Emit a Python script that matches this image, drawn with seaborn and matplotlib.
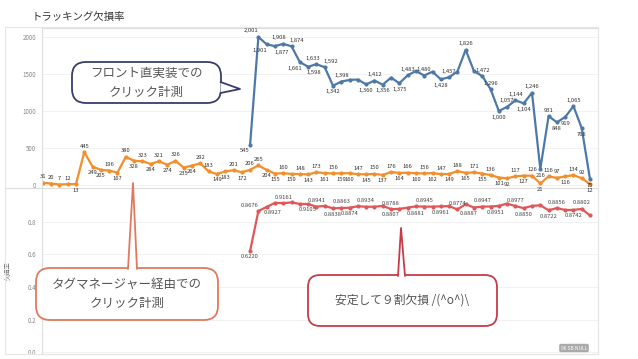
import numpy as np
import pandas as pd
import seaborn as sns
import matplotlib.pyplot as plt
from matplotlib.patches import FancyBboxPatch, Polygon, Rectangle
from matplotlib.lines import Line2D

# daily click counts (day 0 .. 66)
tag_counts = [31, 20, 7, 12, 13, 445, 249, 205, 196, 167,
              380, 328, 323, 284, 321, 274, 326, 235, 264, 292,
              183, 149, 183, 201, 172, 206, 265, 204, 155, 160,
              150, 148, 143, 173, 161, 156, 159, 160, 147, 145,
              150, 137, 176, 164, 166, 160, 156, 162, 147, 149,
              188, 165, 171, 155, 136, 101, 92, 117, 127, 126,
              21, 116, 97, 116, 134, 92, 12]

# front-side measurement starts on day 25
front_start = 25
front_counts = [545, 2001, 1901, 1877, 1908, 1874, 1661, 1598, 1633, 1592,
                1342, 1398, 1421, 1425, 1360, 1412, 1356, 1452, 1375, 1483,
                1540, 1480, 1532, 1428, 1457, 1533, 1826, 1539, 1472, 1296,
                1000, 1057, 1144, 1104, 1246, 216, 931, 848, 919, 1065,
                768, 75]

loss_rate = [0.6220, 0.8676, 0.8927, 0.9174, 0.9161, 0.9200, 0.9109, 0.9105, 0.8941, 0.8989,
             0.8838, 0.8863, 0.8874, 0.8968, 0.8934, 0.8938, 0.8990, 0.8788, 0.8807, 0.8881,
             0.8961, 0.8945, 0.8943, 0.8961, 0.8977, 0.8774, 0.9096, 0.8887, 0.8947, 0.8951,
             0.8990, 0.9130, 0.8977, 0.8850, 0.8989, 0.9028, 0.8722, 0.8856, 0.8738, 0.8742,
             0.8802, 0.8400]

# label placement per point: a = above, b = below, - = no label
tag_sides = ('aaaababbab' 'ababababba' 'abbabaabba' 'babababbab'
             'ababababab' 'abababbaba' 'baabaab')
front_sides = 'babbaabbaa' 'ba--bab-ba' '-a-ba-a-aa' 'baababab' 'babb'
rate_sides = 'bab-a--ba-' 'bab-a--abb' '-a-b-a-bab' '--ab--ba-b' 'a-'
# sideways nudges (points) for crowded labels, keyed by day
front_nudge = {25: -4, 26: -5, 27: -5, 28: 5, 29: -3, 30: 4, 31: -4, 32: 4,
               33: -3, 34: 4}
rate_nudge = {26: -6, 27: 4, 43: -6, 44: 6, 52: -4, 54: 4}

W, H = 638, 359
BLUE, ORANGE, RED = '#4e79a7', '#f28e2b', '#e15759'

sns.set_style("white")
plt.rcParams['font.family'] = ['Noto Sans CJK JP', 'DejaVu Sans']

fig = plt.figure(figsize=(W / 100, H / 100), dpi=100)
left, right = 42, 598
ax1 = fig.add_axes([left / W, 1 - 188 / H, (right - left) / W, (188 - 28) / H])
ax2 = fig.add_axes([left / W, 1 - 354 / H, (right - left) / W, (354 - 188) / H])

days = np.arange(len(tag_counts))
front_days = days[front_start:]

top = pd.concat([
    pd.DataFrame({'day': days, 'count': tag_counts, 'series': 'tag'}),
    pd.DataFrame({'day': front_days, 'count': front_counts, 'series': 'front'}),
])
sns.lineplot(data=top, x='day', y='count', hue='series',
             palette={'tag': ORANGE, 'front': BLUE}, marker='o', markersize=3,
             markeredgewidth=0, linewidth=1.6, legend=False, ax=ax1)

sns.lineplot(x=front_days, y=loss_rate, color=RED, marker='o', markersize=3,
             markeredgewidth=0, linewidth=1.6, ax=ax2)


def put_labels(ax, xs, vals, fmt, sides, nudge=None, color='#333333'):
    nudge = nudge or {}
    for x, v, s in zip(xs, vals, sides):
        if s == '-':
            continue
        up = s == 'a'
        ax.annotate(fmt(v), (x, v), xytext=(nudge.get(x, 0), 2.5 if up else -2.5),
                    textcoords='offset points', ha='center',
                    va='bottom' if up else 'top', fontsize=4.2, color=color)


put_labels(ax1, days, tag_counts, lambda v: f'{v}', tag_sides)
put_labels(ax1, front_days, front_counts, lambda v: f'{v:,}', front_sides,
           front_nudge)
put_labels(ax2, front_days, loss_rate, lambda v: f'{v:.4f}', rate_sides,
           rate_nudge, color='#444444')

for ax in (ax1, ax2):
    ax.set_xlim(-0.1, 66.96)
    ax.set_xticks([])
    ax.set_xlabel('')
    ax.grid(axis='y', color='#f0f0f0', linewidth=0.6)
    ax.tick_params(axis='y', length=0, pad=4, labelsize=4.5, labelcolor='#888888')
    for s in ax.spines.values():
        s.set_color('#dddddd')
        s.set_linewidth(0.8)
    ax.set_facecolor('none')

ax1.set_ylim(-40, 2122)
ax1.set_yticks([0, 500, 1000, 1500, 2000])
ax1.set_ylabel('')
ax2.set_ylim(-0.012, 1.009)
ax2.set_yticks([0.0, 0.2, 0.4, 0.6, 0.8])
ax2.set_yticklabels(['0.0', '0.2', '0.4', '0.6', '0.8'])
ax2.spines['top'].set_visible(False)
ax2.set_ylabel('欠損率', fontsize=4.5, color='#666666')
ax2.yaxis.set_label_coords(-0.054, 0.5)

# overlay in pixel units for title, frame and callouts
ov = fig.add_axes([0, 0, 1, 1])
ov.set_xlim(0, W)
ov.set_ylim(H, 0)
ov.axis('off')

ov.text(32, 17, 'トラッキング欠損率', fontsize=7.5, color='#333333', va='center')
ov.add_patch(Rectangle((5, 27), right - 5, 354 - 27, fill=False,
                       edgecolor='#e6e6e6', linewidth=0.8))
ov.add_line(Line2D([5, left], [188, 188], color='#dddddd', linewidth=0.8))


def callout(x0, y0, x1, y1, tail, edge, lines, size=9, radius=14):
    ov.add_patch(FancyBboxPatch((x0, y0), x1 - x0, y1 - y0,
                                boxstyle=f'round,pad=0,rounding_size={radius}',
                                facecolor='white', edgecolor=edge, linewidth=1.3,
                                zorder=3))
    ov.add_patch(Polygon(tail, closed=True, facecolor='white', edgecolor='none',
                         zorder=4))
    ov.add_line(Line2D([tail[0][0], tail[1][0], tail[2][0]],
                       [tail[0][1], tail[1][1], tail[2][1]],
                       color=edge, linewidth=1.3, zorder=5))
    cy = (y0 + y1) / 2
    n = len(lines)
    for k, t in enumerate(lines):
        ov.text((x0 + x1) / 2, cy + (k - (n - 1) / 2) * 19, t, fontsize=size,
                color='#555555', ha='center', va='center', zorder=6)


callout(72, 62, 221, 103, [(220.5, 82), (240, 89), (220.5, 93)], '#3a3d68',
        ['フロント直実装での', 'クリック計測'])
callout(36, 268, 218, 320, [(128, 269), (133, 183), (137, 269)], '#e07a5f',
        ['タグマネージャー経由での', 'クリック計測'])
callout(308, 275, 497, 326, [(398, 276), (401, 228), (405, 276)], '#c63c48',
        ['安定して９割欠損 /(^o^)\\'], size=8.5, radius=12)

ov.text(574, 348, '96 SB NULL', fontsize=3.5, color='white', ha='center',
        va='center', bbox=dict(boxstyle='round,pad=0.35', fc='#aaaaaa', ec='none'))

fig.savefig('out.png', dpi=100)
